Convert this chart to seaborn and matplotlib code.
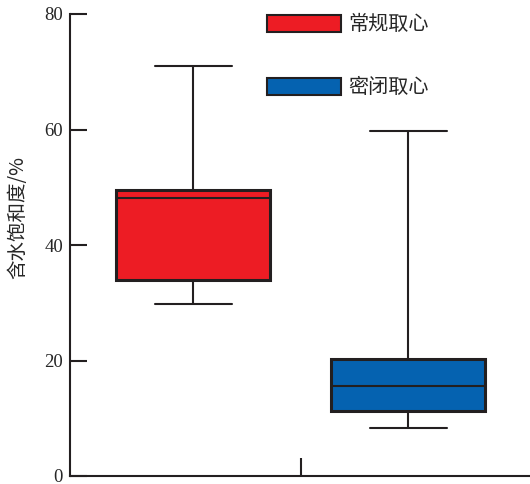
import matplotlib
matplotlib.use("Agg")
import matplotlib.pyplot as plt
import seaborn as sns
import pandas as pd
from matplotlib.patches import Patch

# Data: five-number summaries (min, Q1, median, Q3, max)
groups = ["常规取心", "密闭取心"]
conventional = [29.8, 33.9, 48.1, 49.5, 71.0]
sealed = [8.3, 11.3, 15.6, 20.3, 59.7]
colors = ["#ED1C24", "#0562B0"]
yticks = [0, 20, 40, 60, 80]
ylabel = "含水饱和度/%"

df = pd.DataFrame({
    "group": [groups[0]] * len(conventional) + [groups[1]] * len(sealed),
    "value": conventional + sealed,
})

sns.set_style("white")
plt.rcParams["font.family"] = ["Noto Sans CJK SC", "DejaVu Sans"]

fig = plt.figure(figsize=(5.30, 4.84), dpi=100)
ax = fig.add_axes([70 / 530, 8 / 484, 460 / 530, 462 / 484])

sns.boxplot(data=df, x="group", y="value", hue="group", palette=colors,
            whis=(0, 100), width=0.716, linewidth=1.5, linecolor="#231F20",
            saturation=1, legend=False, ax=ax,
            boxprops=dict(linewidth=2.2),
            medianprops=dict(linewidth=1.5),
            whiskerprops=dict(linewidth=1.5),
            capprops=dict(linewidth=1.5))

ax.set_xlim(-0.572, 1.567)
ax.set_ylim(0, 80)
ax.set_yticks(yticks)
ax.set_yticklabels([str(t) for t in yticks], family="Liberation Serif", fontsize=13.5)
ax.set_xticks([0.5])
ax.set_xticklabels([""])
ax.tick_params(axis="y", direction="in", length=12, width=1.5, color="#231F20", pad=5, left=True)
ax.tick_params(axis="x", direction="in", length=13, width=1.5, color="#231F20", bottom=True)
ax.set_xlabel("")
ax.set_ylabel(ylabel, fontsize=14, va="center")
ax.yaxis.set_label_coords(-0.113, 0.559)

for s in ["top", "right"]:
    ax.spines[s].set_visible(False)
for s in ["left", "bottom"]:
    ax.spines[s].set_linewidth(1.5)
    ax.spines[s].set_color("#231F20")

handles = [Patch(facecolor=c, edgecolor="#231F20", linewidth=1.5) for c in colors]
ax.legend(handles, groups, loc="upper left", bbox_to_anchor=(0.428, 1.0),
          frameon=False, fontsize=14.5, handlelength=3.68, handleheight=0.92,
          labelspacing=2.1, handletextpad=0.35, borderpad=0, borderaxespad=0)

fig.savefig("out.png", dpi=100)
